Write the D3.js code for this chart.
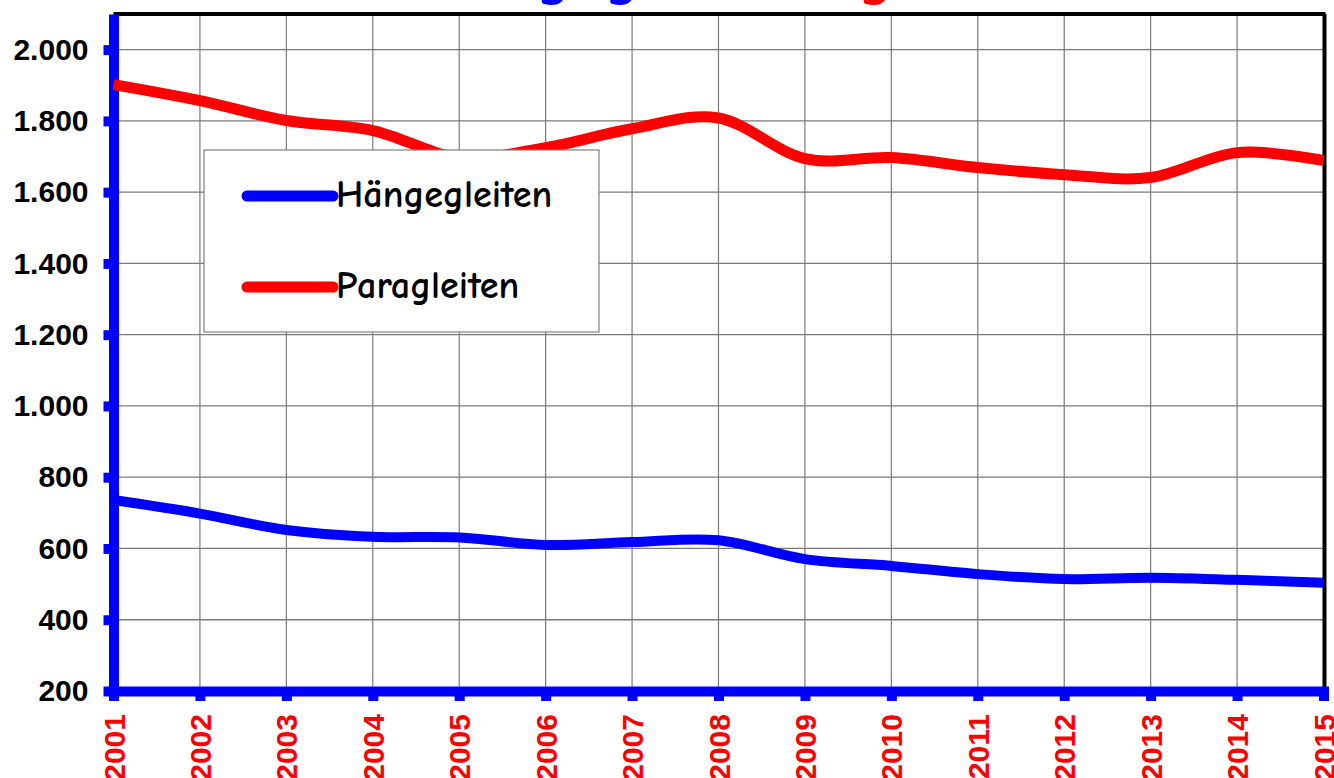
<!DOCTYPE html>
<html>
<head>
<meta charset="utf-8">
<script src="https://cdn.jsdelivr.net/npm/d3@7"></script>
<style>
  body { margin: 0; background: #fff; }
  svg { display: block; }
</style>
</head>
<body>
<div id="chart"></div>
<script>
// values
const years = [2001, 2002, 2003, 2004, 2005, 2006, 2007, 2008, 2009, 2010, 2011, 2012, 2013, 2014, 2015];
const haengegleiten = [736, 698, 652, 633, 631, 610, 618, 623, 570, 551, 528, 514, 518, 512, 504];
const paragleiten = [1902, 1857, 1801, 1773, 1697, 1725, 1778, 1808, 1694, 1697, 1669, 1649, 1641, 1711, 1689];
const yTicks = [200, 400, 600, 800, 1000, 1200, 1400, 1600, 1800, 2000];
const seriesNames = ['Hängegleiten', 'Paragleiten'];
const seriesColors = ['#0000ff', '#ff0000'];

const W = 1334, H = 778;
const margin = { top: 14, right: 10.5, bottom: 87, left: 113.5 };
const labelFont = '"Liberation Sans", Arial, sans-serif';
const legendFont = '"Comic Sans MS", "Comic Neue", Lato, sans-serif';

const svg = d3.select('#chart').append('svg')
  .attr('width', W)
  .attr('height', H);

const x = d3.scaleLinear()
  .domain([d3.min(years), d3.max(years)])
  .range([margin.left, W - margin.right]);

const y = d3.scaleLinear()
  .domain([200, 2100])
  .range([H - margin.bottom, margin.top]);

const de = d3.formatLocale({ decimal: ',', thousands: '.', grouping: [3], currency: ['', ' €'] });

// title, mostly cut off at the top of the picture - only the descenders of the g's show
const titleParts = [
  { text: seriesNames[0], color: seriesColors[0], gIndex: 3, gAt: 536 },
  { text: seriesNames[1], color: seriesColors[1], gIndex: 4, gAt: 858 }
];
titleParts.forEach(p => {
  const t = svg.append('text')
    .attr('x', 0)
    .attr('y', -7)
    .attr('fill', p.color)
    .style('font-family', legendFont)
    .style('font-weight', 'bold')
    .style('font-size', '66px')
    .text(p.text);
  const gx = t.node().getStartPositionOfChar(p.gIndex).x;
  t.attr('x', p.gAt - gx);
});

// grid
svg.append('g')
  .selectAll('line')
  .data(yTicks)
  .join('line')
  .attr('x1', x.range()[0])
  .attr('x2', x.range()[1])
  .attr('y1', d => y(d))
  .attr('y2', d => y(d))
  .attr('stroke', '#7a7a7a')
  .attr('stroke-width', 1.3);

svg.append('g')
  .selectAll('line')
  .data(years)
  .join('line')
  .attr('x1', d => x(d))
  .attr('x2', d => x(d))
  .attr('y1', y.range()[1])
  .attr('y2', y.range()[0])
  .attr('stroke', '#7a7a7a')
  .attr('stroke-width', 1.2);

// frame top and right
svg.append('line')
  .attr('x1', x.range()[0]).attr('x2', x.range()[1] + 2)
  .attr('y1', y.range()[1]).attr('y2', y.range()[1])
  .attr('stroke', '#000').attr('stroke-width', 4);
svg.append('line')
  .attr('x1', x.range()[1] + 1).attr('x2', x.range()[1] + 1)
  .attr('y1', y.range()[1]).attr('y2', y.range()[0])
  .attr('stroke', '#000').attr('stroke-width', 4);

// y axis
const yAxis = svg.append('g')
  .attr('transform', `translate(${margin.left},0)`)
  .call(d3.axisLeft(y).tickValues(yTicks).tickSize(10).tickSizeOuter(0).tickPadding(15).tickFormat(de.format(',d')));
yAxis.select('.domain').attr('stroke', seriesColors[0]).attr('stroke-width', 10);
yAxis.selectAll('.tick line').attr('stroke', seriesColors[0]).attr('stroke-width', 10);
yAxis.selectAll('.tick text')
  .attr('fill', '#000')
  .style('font-family', labelFont)
  .style('font-weight', 'bold')
  .style('font-size', '30px');

// x axis
const xAxis = svg.append('g')
  .attr('transform', `translate(0,${H - margin.bottom})`)
  .call(d3.axisBottom(x).tickValues(years).tickSize(10).tickSizeOuter(0).tickFormat(d3.format('d')));
xAxis.select('.domain').attr('stroke', seriesColors[0]).attr('stroke-width', 10).attr('stroke-linecap', 'square');
xAxis.selectAll('.tick line').attr('stroke', seriesColors[0]).attr('stroke-width', 10);
xAxis.selectAll('.tick text')
  .attr('fill', '#ff0000')
  .attr('transform', 'rotate(-90)')
  .attr('text-anchor', 'end')
  .attr('x', -23)
  .attr('y', 0)
  .attr('dy', '0.35em')
  .style('font-family', labelFont)
  .style('font-weight', 'bold')
  .style('font-size', '30px');

// lines
const line = d3.line()
  .x((d, i) => x(years[i]))
  .y(d => y(d))
  .curve(d3.curveCatmullRom.alpha(0));

[haengegleiten, paragleiten].forEach((values, i) => {
  svg.append('path')
    .datum(values)
    .attr('fill', 'none')
    .attr('stroke', seriesColors[i])
    .attr('stroke-width', i === 0 ? 10 : 11)
    .attr('stroke-linejoin', 'round')
    .attr('d', line);
});

// legend
const legend = svg.append('g').attr('transform', 'translate(204,150)');
legend.append('rect')
  .attr('width', 395)
  .attr('height', 182)
  .attr('fill', '#fff')
  .attr('stroke', '#808080')
  .attr('stroke-width', 1.2);

const items = legend.selectAll('g.item')
  .data(seriesNames)
  .join('g')
  .attr('class', 'item')
  .attr('transform', (d, i) => `translate(0,${46 + i * 91})`);

items.append('path')
  .attr('d', d3.line()([[43, 0], [129, 0]]))
  .attr('stroke', (d, i) => seriesColors[i])
  .attr('stroke-width', 11)
  .attr('stroke-linecap', 'round');

const legendText = items.append('text')
  .attr('x', 132)
  .attr('y', 11)
  .attr('fill', '#000')
  .style('font-family', legendFont)
  .style('font-weight', 'bold')
  .style('font-size', '36px')
  .text(d => d);

// fit the fallback font to the width of the original legend text
const wanted = 216;
const got = legendText.nodes()[0].getComputedTextLength();
if (got > 0) legendText.style('font-size', (36 * wanted / got).toFixed(1) + 'px');
</script>
</body>
</html>
